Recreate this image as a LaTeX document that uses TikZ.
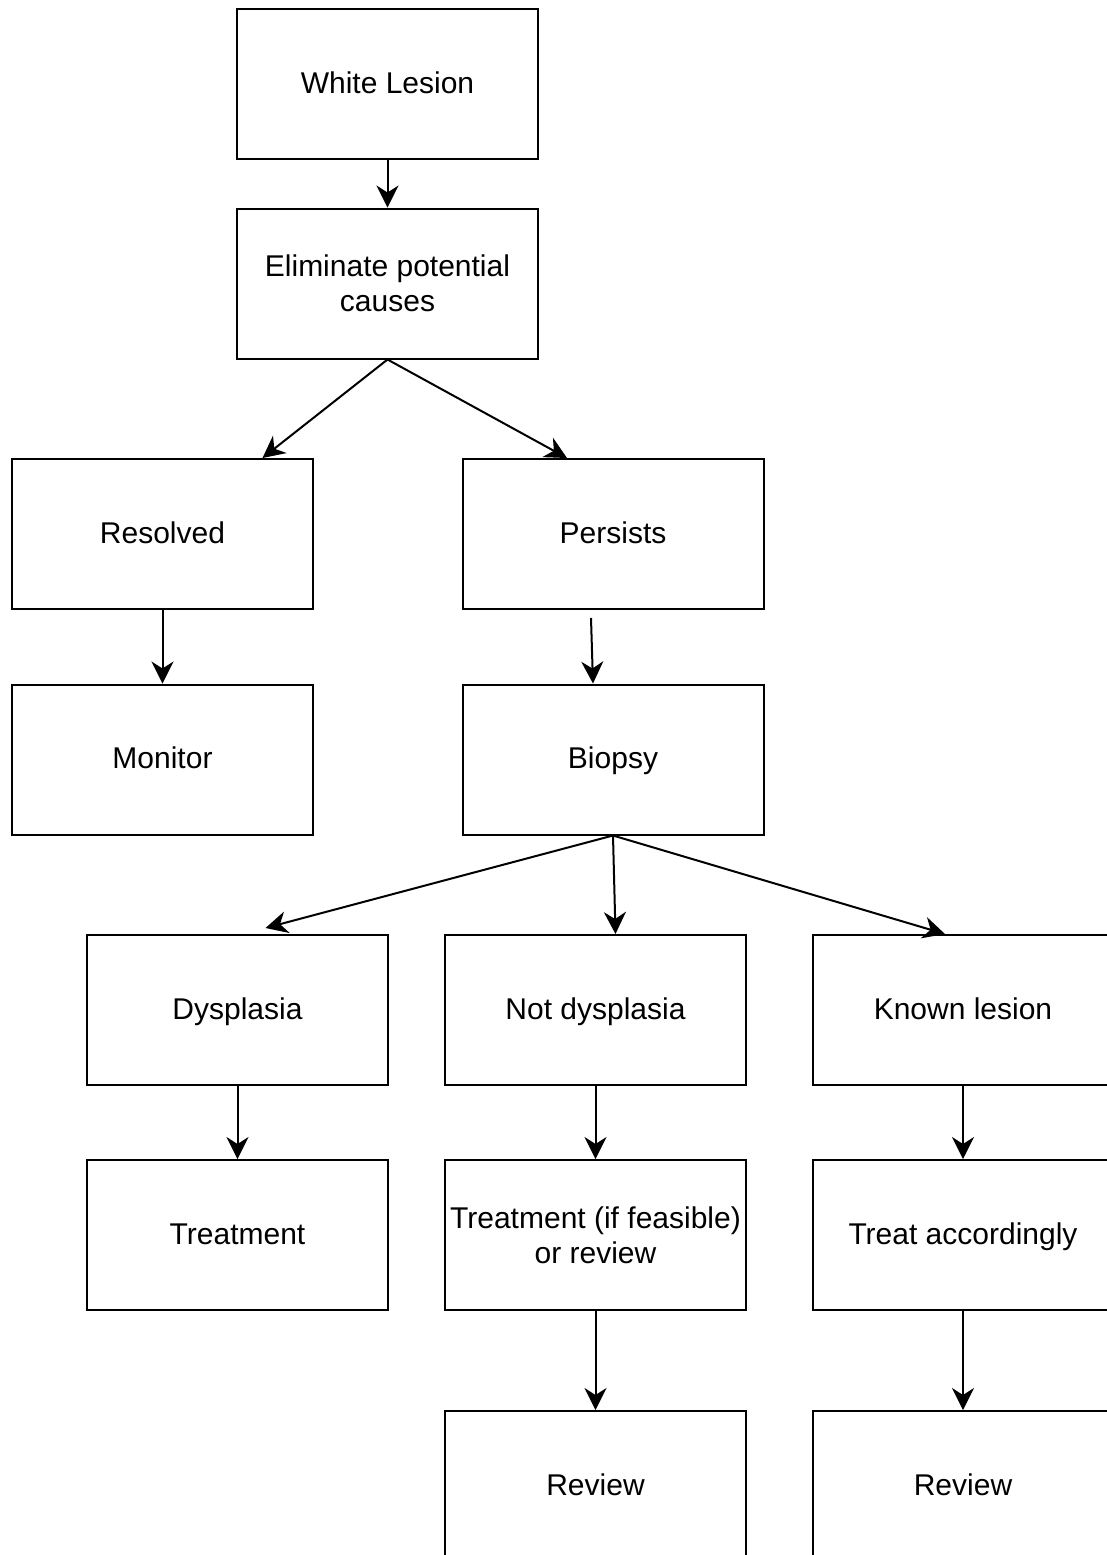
\documentclass[tikz,border=0pt]{standalone}
\usepackage{fontspec}
\setmainfont{Liberation Sans}
\usepackage{tikz}
\usetikzlibrary{arrows.meta,calc}

\tikzset{
  boxbase/.style={draw, line width=1pt, minimum width=150.5pt, minimum height=75pt,
    align=center, inner sep=0pt, font=\fontsize{15}{17.5}\selectfont},
  boxnode/.style={boxbase, text height=12pt, text depth=3pt},
  arr/.style={line width=1pt, -{Stealth[length=11pt,width=11pt,inset=3.5pt]}}
}

\begin{document}
\begin{tikzpicture}[x=0.5pt, y=-0.5pt]

        \clip (0,0) rectangle (1107,1555);

        \node[boxnode] (lesion) at (387.5,84) {White Lesion};
        \node[boxbase] (elim) at (387.5,283.5) {Eliminate potential\\causes};

        \node[boxnode] (resolved) at (162.5,534) {Resolved};
        \node[boxnode] (persists) at (613,534) {Persists};
        \node[boxnode] (monitor) at (162.5,759.5) {Monitor};
        \node[boxnode] (biopsy) at (613,759.5) {Biopsy};

        \node[boxnode] (dysp) at (237.5,1010) {Dysplasia};
        \node[boxnode] (notdysp) at (595.5,1010) {Not dysplasia};
        \node[boxnode] (known) at (963,1010) {Known lesion};

        \node[boxnode] (treat) at (237.5,1235) {Treatment};
        \node[boxbase] (feasible) at (595.5,1235) {Treatment (if feasible)\\or review};
        \node[boxnode] (accord) at (963,1235) {Treat accordingly};

        \node[boxnode] (reviewa) at (595.5,1486) {Review};
        \node[boxnode] (reviewb) at (963,1486) {Review};

        \draw[arr] (lesion) -- (elim);
        \draw[arr] (elim.south) -- ($(resolved.north)+(100,0)$);
        \draw[arr] (elim.south) -- ($(persists.north)+(-46,0)$);
        \draw[arr] (resolved) -- (monitor);
        \draw[arr] ($(persists.south)+(-22,8)$) -- ($(biopsy.north)+(-20,0)$);

        \draw[arr] (biopsy.south) -- ($(dysp.north)+(28,-6)$);
        \draw[arr] (biopsy.south) -- ($(notdysp.north)+(20,0)$);
        \draw[arr] (biopsy.south) -- ($(known.north)+(-18,0)$);

        \draw[arr] (dysp) -- (treat);
        \draw[arr] (notdysp) -- (feasible);
        \draw[arr] (feasible) -- (reviewa);
        \draw[arr] (known) -- (accord);
        \draw[arr] (accord) -- (reviewb);

\end{tikzpicture}
\end{document}
